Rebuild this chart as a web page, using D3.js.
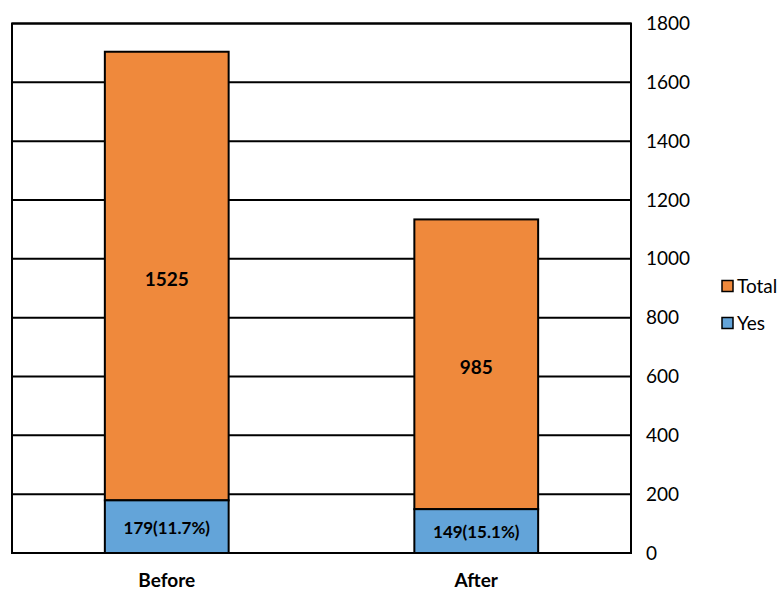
<!DOCTYPE html>
<html><head><meta charset="utf-8">
<script src="https://cdn.jsdelivr.net/npm/d3@7"></script>
<style>body{margin:0;background:#fff}svg{display:block}text{font-family:Lato,"Open Sans",sans-serif}</style>
</head><body><svg id="c" width="780" height="589"></svg>
<script>
const categories = ["Before", "After"];
const yesValues = [179, 149];
const totalValues = [1525, 985];
const yesLabels = ["179(11.7%)", "149(15.1%)"];
const totalLabels = ["1525", "985"];
const seriesNames = ["Total", "Yes"];
const yTicks = [0, 200, 400, 600, 800, 1000, 1200, 1400, 1600, 1800];

const svg = d3.select("#c");
const L = 12, R = 631, T = 23.5, B = 553;
const x = d3.scaleBand().domain(categories).range([L, R]).paddingInner(0.6).paddingOuter(0.3);
const y = d3.scaleLinear().domain([0, 1800]).range([B, T]);
const colors = {Total: "#EF893C", Yes: "#63A4D9"};

// gridlines
svg.append("g").selectAll("line").data(yTicks).join("line")
  .attr("x1", L).attr("x2", R).attr("y1", d => y(d)).attr("y2", d => y(d))
  .attr("stroke", "#000").attr("stroke-width", 2);
// frame
svg.append("rect").attr("x", L).attr("y", T).attr("width", R - L).attr("height", B - T)
  .attr("fill", "none").attr("stroke", "#000").attr("stroke-width", 2);

// right axis labels
const ax = svg.append("g").attr("transform", `translate(${R},0)`)
  .call(d3.axisRight(y).tickValues(yTicks).tickSize(0).tickPadding(15).tickFormat(d3.format("d")));
ax.select(".domain").remove();
ax.selectAll("text").attr("font-size", 19).attr("font-family", "Lato, sans-serif").attr("fill", "#000");

const bw = x.bandwidth();
const g = svg.append("g");
categories.forEach((c, i) => {
  const y0 = y(0), y1 = y(yesValues[i]), y2 = y(yesValues[i] + totalValues[i]);
  g.append("rect").attr("x", x(c)).attr("y", y2).attr("width", bw).attr("height", y1 - y2)
    .attr("fill", colors.Total).attr("stroke", "#000").attr("stroke-width", 2);
  g.append("rect").attr("x", x(c)).attr("y", y1).attr("width", bw).attr("height", y0 - y1)
    .attr("fill", colors.Yes).attr("stroke", "#000").attr("stroke-width", 2);
  g.append("text").attr("x", x(c) + bw / 2).attr("y", (y1 + y2) / 2 + 3).attr("dy", "0.35em")
    .attr("text-anchor", "middle").attr("font-weight", "bold").attr("font-size", 19).text(totalLabels[i]);
  g.append("text").attr("x", x(c) + bw / 2).attr("y", (y0 + y1) / 2 + 1).attr("dy", "0.35em")
    .attr("text-anchor", "middle").attr("font-weight", "bold").attr("font-size", 17).text(yesLabels[i]);
  g.append("text").attr("x", x(c) + bw / 2).attr("y", 586.5)
    .attr("text-anchor", "middle").attr("font-weight", "bold").attr("font-size", 19).text(c);
});

// legend
const lg = svg.append("g");
seriesNames.forEach((s, i) => {
  const ly = 286 + i * 37;
  lg.append("rect").attr("x", 722).attr("y", ly - 5.5).attr("width", 11).attr("height", 11)
    .attr("fill", colors[s]).attr("stroke", "#000").attr("stroke-width", 1.5);
  lg.append("text").attr("x", 737).attr("y", ly).attr("dy", "0.35em").attr("font-size", 19).text(s);
});
</script></body></html>
